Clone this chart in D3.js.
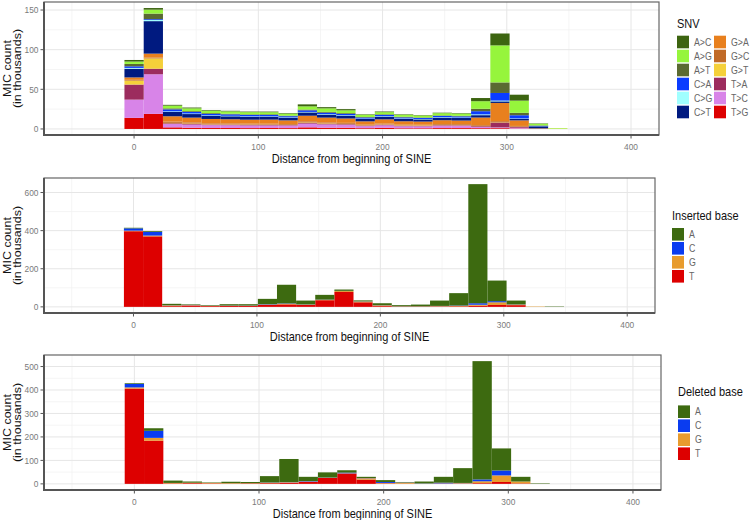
<!DOCTYPE html>
<html><head><meta charset="utf-8">
<script src="https://cdn.jsdelivr.net/npm/d3@7"></script>
<style>body{margin:0;background:#fff} text{font-family:"Liberation Sans",Arial,sans-serif}</style>
</head><body><svg id="c" width="750" height="520"></svg>
<script>
// ---------- DATA ----------
const binCenters = [0,15.5,31,46.5,62,77.5,93,108.5,124,139.5,155,170.5,186,201.5,217,232.5,248,263.5,279,294.5,310,325.5,341];
const binWidth = 15.5;

const snvTypes  = ["A>C","A>G","A>T","C>A","C>G","C>T","G>A","G>C","G>T","T>A","T>C","T>G"];
const snvColors = ["#3c6410","#96f53c","#5a6a32","#0a3cff","#a0ffff","#001a80","#e8801e","#c06a28","#f5d03a","#9c2c5e","#d884e8","#dd0000"];
// SNV counts (thousands) per bin
const snv_AC = [2,2,1,1,0.8,0.7,0.7,0.8,0.7,2.5,1.5,1.5,0.6,0.8,0.6,0.5,0.6,0.6,4,15,7.5,0.5,0];
const snv_AG = [3,5,3.4,3.5,3,3,2.8,2.6,2.5,4,4.5,3.5,2.8,2.7,2.6,2.5,2.8,2.8,9.6,46.7,15.4,2,0.7];
const snv_AT = [3,7,1.3,1,1,0.8,0.8,0.9,0.7,1,1,1,0.6,0.8,0.7,0.6,0.7,0.7,3,13.3,3,0.5,0];
const snv_CA = [2,1,2.5,2,1.8,1.8,1.7,1.6,1.5,2,1.8,1.7,1.4,1.6,1.3,1.3,1.6,1.5,4,9.6,4,0.5,0];
const snv_CG = [1,1.5,0.8,0.7,0.6,0.6,0.6,0.5,0.5,0.6,0.6,0.6,0.5,0.6,0.5,0.5,0.6,0.6,1,1,0.5,0.2,0];
const snv_CT = [11,41,5.4,4.5,4,3.8,3.6,3.7,3.3,4.2,3.8,3.5,3,3.4,3.1,2.8,3.2,3.2,3,2,2,2.5,0];
const snv_GA = [3,5,6.7,6,5.5,5.2,5,5.2,4.6,7,6,5.5,4.2,5.3,4.3,4,4.8,4.5,9.6,23,7,0.5,0];
const snv_GC = [1,1,1.6,1.5,1.2,1.2,1.1,1.1,1,1.5,1.3,1.2,0.9,1,0.9,0.8,1,1,1,1.5,1,0.2,0];
const snv_GT = [5,13,0.5,0.5,0.4,0.4,0.4,0.4,0.3,0.5,0.5,0.4,0.3,0.4,0.5,0.6,0.4,0.4,0.3,0.3,0.3,0,0.5];
const snv_TA = [19,7,1,0.8,0.7,0.7,0.7,0.7,0.6,1,0.8,0.8,0.6,0.8,0.6,0.6,0.7,0.7,1,6,1,0.1,0];
const snv_TC = [23,50,4.2,4,3.6,3.5,3.4,3.2,3.2,4.7,4.2,3.8,2.6,3.2,2.5,2.4,3,2.9,1.5,1,1,0,0];
const snv_TG = [14,19,2,1.5,1.2,1.2,1.1,1.2,1.1,2,1.5,1.5,1,1.4,0.9,0.9,1.1,1.1,1,1,0.5,0,0];

const baseTypes  = ["A","C","G","T"];
const baseColors = ["#3d6a10","#0a3cf0","#e89c2e","#dd0000"];
const ins_A = [3,4,7,3,3,7,7,28,98,20,25,7,5,10,6,9,28,65,625,108,20,0,2];
const ins_C = [12,20,1,1,0.5,1,1,2,2,1,1,1,1,1,0.5,0.5,1,2,8,6,1,0,0];
const ins_G = [3,4,4,2,1.5,1,1,2,3,2,2,5,4,4,1,1,2,2,5,14,3,2,0];
const ins_T = [397,370,4,7,4,5,5,10,13,10,35,78,24,4,1.5,1.5,2,3,6,10,9,0,0];

const del_A = [3,11,10,5,2,6,5,27,98,18,22,10,5,8,2,8,25,63,504,94,20,2,0];
const del_C = [15,30,0,0,0,0,0,1,1,2,1,3,1,4,1,1,3,1,8,21,0,0,0];
const del_G = [5,12,2,2,2,2,1,2,3,2,1,1,6,2,4,1,1,2,8,28,8,0,0];
const del_T = [406,184,2,3,2,1,2,3,4,8,25,44,18,2,1,0,1,1,3,8,2,0,0];

const xTicks = [0,100,200,300,400];
const xMinor = [-50,50,150,250,350];
const xTitle = "Distance from beginning of SINE";
const yTitle = ["MIC count","(in thousands)"];

// ---------- LAYOUT ----------
const svg = d3.select("#c");
const SX = 0.88; // horizontal text squeeze of the reference
function htext(g, x, y, str, size, anchor, fill, weight){
  return g.append("text").attr("transform",`translate(${x},${y}) scale(${SX},1)`)
    .attr("text-anchor",anchor||"start").attr("font-size",size).attr("fill",fill||"#000")
    .attr("font-weight",weight||"normal").text(str);
}

const panels = [
  {keys:snvTypes, colors:snvColors, series:[snv_AC,snv_AG,snv_AT,snv_CA,snv_CG,snv_CT,snv_GA,snv_GC,snv_GT,snv_TA,snv_TC,snv_TG],
   yTicks:[0,50,100,150], top:2, bottom:135, right:659, legendTitle:"SNV", lx:677, lTitleY:27.5, lRow0:42, cols:2},
  {keys:baseTypes, colors:baseColors, series:[ins_A,ins_C,ins_G,ins_T],
   yTicks:[0,200,400,600], top:178, bottom:313, right:655, legendTitle:"Inserted base", lx:672, lTitleY:219.5, lRow0:234.3, cols:1},
  {keys:baseTypes, colors:baseColors, series:[del_A,del_C,del_G,del_T],
   yTicks:[0,100,200,300,400,500], top:355, bottom:490, right:661, legendTitle:"Deleted base", lx:678, lTitleY:396, lRow0:411.7, cols:1}
];
const left = 44;

panels.forEach(p=>{
  const g = svg.append("g");
  const rows = binCenters.map((c,i)=>{
    const r = {x:c};
    p.keys.forEach((k,j)=> r[k] = p.series[j][i]);
    return r;
  });
  const maxTot = d3.max(rows, r=> d3.sum(p.keys, k=> r[k]));
  const x = d3.scaleLinear().domain([-72.5,422.5]).range([left,p.right]);
  const y = d3.scaleLinear().domain([-0.05*maxTot, 1.05*maxTot]).range([p.bottom,p.top]);

  // background + grid
  g.append("rect").attr("x",left).attr("y",p.top).attr("width",p.right-left).attr("height",p.bottom-p.top).attr("fill","#fff");
  const step = p.yTicks[1]-p.yTicks[0];
  const yMinor = d3.range(step/2, y.domain()[1], step);
  g.selectAll(".ym").data(yMinor).join("line").attr("x1",left).attr("x2",p.right)
    .attr("y1",d=>y(d)).attr("y2",d=>y(d)).attr("stroke","#f3f3f3").attr("stroke-width",0.8);
  g.selectAll(".xm").data(xMinor).join("line").attr("y1",p.top).attr("y2",p.bottom)
    .attr("x1",d=>x(d)).attr("x2",d=>x(d)).attr("stroke","#f3f3f3").attr("stroke-width",0.8);
  g.selectAll(".yM").data(p.yTicks).join("line").attr("x1",left).attr("x2",p.right)
    .attr("y1",d=>y(d)).attr("y2",d=>y(d)).attr("stroke","#e6e6e6").attr("stroke-width",1);
  g.selectAll(".xM").data(xTicks).join("line").attr("y1",p.top).attr("y2",p.bottom)
    .attr("x1",d=>x(d)).attr("x2",d=>x(d)).attr("stroke","#e6e6e6").attr("stroke-width",1);

  // stacked bars: first key on top
  const stack = d3.stack().keys(p.keys.slice().reverse());
  const layers = stack(rows);
  const colorOf = d3.scaleOrdinal().domain(p.keys).range(p.colors);
  g.selectAll(".layer").data(layers).join("g").attr("fill",d=>colorOf(d.key))
    .selectAll("rect").data(d=>d).join("rect")
    .attr("x",d=>x(d.data.x-binWidth/2)).attr("width",d=>x(d.data.x+binWidth/2)-x(d.data.x-binWidth/2))
    .attr("y",d=>y(d[1])).attr("height",d=>Math.max(0,y(d[0])-y(d[1])));

  // border
  g.append("rect").attr("x",left).attr("y",p.top).attr("width",p.right-left).attr("height",p.bottom-p.top)
    .attr("fill","none").attr("stroke","#666").attr("stroke-width",1.2);
  g.append("path").attr("d",`M${left},${p.top}V${p.bottom}H${p.right}`).attr("fill","none").attr("stroke","#555").attr("stroke-width",2);

  // axes ticks
  p.yTicks.forEach(t=>{
    g.append("line").attr("x1",left-3.5).attr("x2",left).attr("y1",y(t)).attr("y2",y(t)).attr("stroke","#555");
    htext(g, left-5.5, y(t)+3.4, t, 9.5, "end", "#7a7a7a");
  });
  xTicks.forEach(t=>{
    g.append("line").attr("x1",x(t)).attr("x2",x(t)).attr("y1",p.bottom).attr("y2",p.bottom+3.5).attr("stroke","#555");
    htext(g, x(t), p.bottom+14.5, t, 9.5, "middle", "#7a7a7a");
  });
  htext(g, (left+p.right)/2, p.bottom+28, xTitle, 12.5, "middle", "#111");
  const cy = (p.top+p.bottom)/2;
  g.append("text").attr("transform",`translate(11,${cy}) scale(${SX},1) rotate(-90)`).attr("text-anchor","middle")
    .attr("font-size",12.5).attr("fill","#111").text(yTitle[0]);
  g.append("text").attr("transform",`translate(21,${cy}) scale(${SX},1) rotate(-90)`).attr("text-anchor","middle")
    .attr("font-size",12.5).attr("fill","#111").text(yTitle[1]);

  // legend
  htext(g, p.lx, p.lTitleY, p.legendTitle, 12.5, "start", "#111");
  const perCol = Math.ceil(p.keys.length/p.cols);
  p.keys.forEach((k,i)=>{
    const col = Math.floor(i/perCol), row = i%perCol;
    const kx = p.lx + col*37, ky = p.lRow0 + row*14;
    g.append("rect").attr("x",kx).attr("y",ky-6.3).attr("width",12).attr("height",12.6).attr("fill",colorOf(k));
    htext(g, kx+17, ky+3.5, k, 10, "start", "#666");
  });
});
</script></body></html>
